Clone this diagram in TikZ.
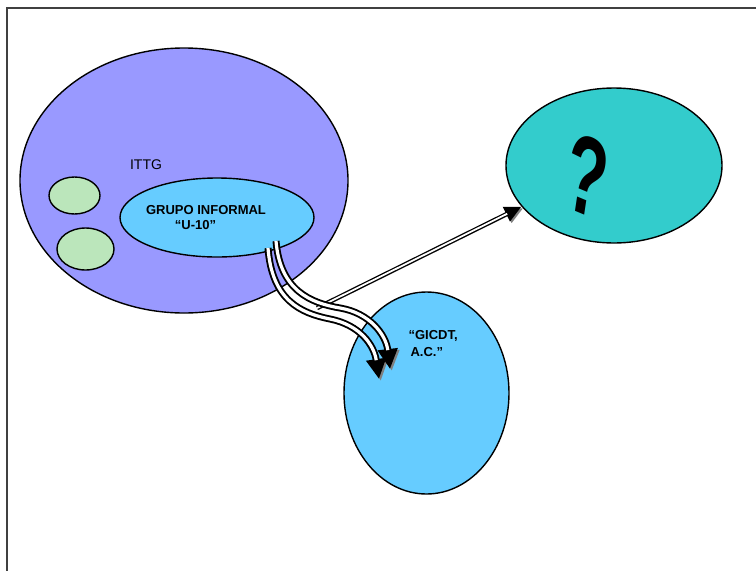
\documentclass[tikz,border=0pt]{standalone}
\usepackage{fontspec}
\setmainfont{Liberation Sans}
\usetikzlibrary{shapes.geometric,arrows.meta,positioning}

\definecolor{lila}{RGB}{153,153,255}
\definecolor{celeste}{RGB}{102,204,255}
\definecolor{verdoso}{RGB}{187,230,187}
\definecolor{turquesa}{RGB}{51,204,204}

\begin{document}
\begin{tikzpicture}[
  x=1pt, y=1pt,
  blob/.style={ellipse, draw, line width=1.4pt, inner sep=0pt},
  rotulo/.style={anchor=base, font=\fontsize{13}{15}\selectfont\bfseries},
  flecha/.style={draw=black, line width=4.4pt,
    -{Triangle[length=17pt,width=15pt]},
    preaction={draw=gray, transform canvas={shift={(1.6pt,-1.6pt)}}},
    postaction={draw=white, line width=1.8pt, -, shorten >=16pt}},
  flechagruesa/.style={draw=black, line width=7pt,
    -{Triangle[length=20pt,width=19pt]},
    preaction={draw=gray, transform canvas={shift={(1.8pt,-1.8pt)}}},
    postaction={draw=white, line width=3.2pt, -, shorten >=19pt}}
]
\useasboundingbox (0,0) rectangle (756,-571);
\draw[line width=1.6pt, gray!50!black] (7,-571) -- (7,-8) -- (756,-8);

\node[blob, fill=lila, minimum width=328pt, minimum height=265pt] (ittg) at (184,-180.5) {};
\node[blob, fill=verdoso, minimum width=51pt, minimum height=37pt] (verde1) at (74.5,-195.5) {};
\node[blob, fill=verdoso, minimum width=57pt, minimum height=42pt] (verde2) at (85.5,-249) {};
\node[blob, fill=celeste, minimum width=194pt, minimum height=79pt] (grupo) at (217,-217.5) {};
\node[blob, fill=turquesa, minimum width=216pt, minimum height=155pt] (pregunta) at (614,-165.5) {};
\node[blob, fill=celeste, minimum width=165pt, minimum height=202pt] (gicdt) at (426.5,-393) {};

\node[anchor=base, font=\fontsize{14}{16}\selectfont] (ittgtxt) at (146,-169) {ITTG};
\node[rotulo] (grupotxt) at (206,-214) {GRUPO INFORMAL};
\node[rotulo] (u10txt) at (195.5,-229.3) {“U-10”};
\node[rotulo, anchor=base west] (gicdttxt) at (405,-339) {“GICDT,};
\node[rotulo, anchor=base west] (actxt) at (407,-356) {A.C.”};
\node[font=\fontsize{112}{112}\selectfont\bfseries, xscale=0.6, rotate=-14] (signo) at (587,-176) {?};

\coordinate (salida) at (317,-308);
\coordinate (origena) at (268,-248);
\coordinate (origenb) at (276,-241);
\coordinate (llegadaa) at (379,-379);
\coordinate (llegadab) at (390,-369);

\draw[flecha] (salida) -- (pregunta.204);
\draw[flechagruesa] (origena) .. controls (272,-300) and (300,-313) .. (330,-319)
  .. controls (360,-325) and (374,-345) .. (llegadaa);
\draw[flechagruesa] (origenb) .. controls (280,-290) and (310,-303) .. (340,-308)
  .. controls (370,-313) and (386,-335) .. (llegadab);
\end{tikzpicture}
\end{document}
